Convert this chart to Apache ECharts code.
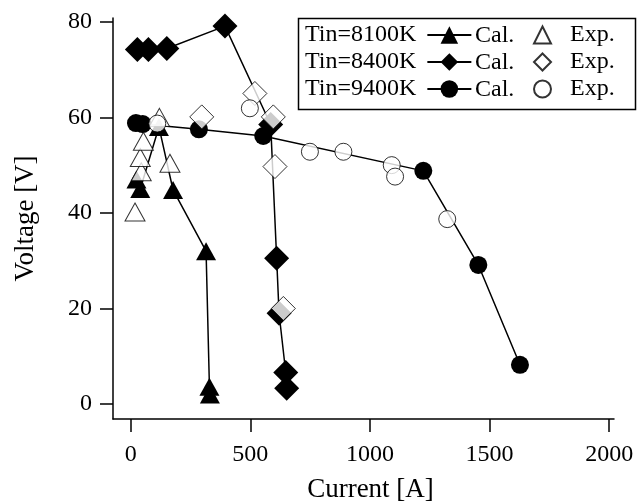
<!DOCTYPE html>
<html><head><meta charset="utf-8">
<script src="https://cdn.jsdelivr.net/npm/echarts@6/dist/echarts.min.js"></script>
<style>html,body{margin:0;padding:0;background:#fff}#c{width:637px;height:503px}</style>
</head><body><div id="c"></div>
<script>
// ---- data ----
const xTicks = [0, 500, 1000, 1500, 2000];
const yTicks = [0, 20, 40, 60, 80];
const cal8100 = [[24,47],[40,45],[118,58],[177,44.8],[315,32],[329,3.6],[331,2]];
const exp8100 = [[18,40.2],[44,48.6],[40,51.6],[53,55],[120,60],[164,50.4]];
const cal8400 = [[28,74.2],[74,74.2],[151,74.4],[394,79.1],[585,58.5],[610,30.5],[620,19],[648,6.6],[652,3.3]];
const exp8400 = [[297,60.1],[519,65],[596,60.1],[603,49.7],[638,20]];
const cal9400 = [[22,58.8],[50,58.6],[285,57.5],[554,56.1],[1223,48.8],[1453,29.1],[1627,8.2]];
const exp9400 = [[111,58.7],[498,61.9],[749,52.8],[889,52.8],[1091,50],[1105,47.6],[1323,38.7]];
const names = ['Tin=8100K','Tin=8400K','Tin=9400K'];

const font = '"Liberation Serif", "Times New Roman", Times, serif';
const chart = echarts.init(document.getElementById('c'), null, {renderer:'canvas'});
function calSeries(name, data, symbol, size){
  return {name, type:'line', data, symbol, symbolSize:size, showSymbol:true,
    itemStyle:{color:'#000'}, lineStyle:{color:'#000', width:1.5}, animation:false, z:2};
}
function expSeries(name, data, symbol, size){
  return {name, type:'scatter', data, symbol, symbolSize:size,
    itemStyle:{color:'#fff', borderColor:'#000', borderWidth:1}, animation:false, z:3};
}
const txt = {color:'#000', fontFamily:font, fontSize:24};
const ttl = {color:'#000', fontFamily:font, fontSize:27};
chart.setOption({
  animation:false,
  grid:{left:113, right:23, top:18, bottom:84, containLabel:false, outerBoundsMode:'none'},
  xAxis:{type:'value', min:-74, max:2020,
    axisLine:{onZero:false, lineStyle:{color:'#000', width:1.5}},
    axisTick:{inside:false, length:13, customValues:xTicks, lineStyle:{color:'#000', width:1.5}},
    axisLabel:Object.assign({customValues:xTicks, margin:24, formatter:v=>String(v)}, txt),
    splitLine:{show:false},
    name:'Current [A]', nameLocation:'middle', nameGap:57,
    nameTextStyle:Object.assign({padding:[0,0,0,14]}, ttl)},
  yAxis:{type:'value', min:-3.14, max:80.8,
    axisLine:{onZero:false, lineStyle:{color:'#000', width:1.5}},
    axisTick:{inside:false, length:13, customValues:yTicks, lineStyle:{color:'#000', width:1.5}},
    axisLabel:Object.assign({customValues:yTicks, margin:21, formatter:v=>String(v)}, txt),
    splitLine:{show:false},
    name:'Voltage [V]', nameLocation:'middle', nameGap:74,
    nameTextStyle:ttl},
  legend:[
    {data:names, orient:'vertical', align:'right', left:300, top:18, itemGap:3,
     itemWidth:44, itemHeight:22,
     textStyle:Object.assign({padding:[0,6,0,0]}, txt)},
    {data:['e8100','e8400','e9400'], orient:'vertical', left:528, top:18, itemGap:3,
     itemWidth:17, itemHeight:17, formatter:function(){return 'Exp.';},
     textStyle:Object.assign({padding:[0,0,0,14]}, txt)}
  ],
  graphic:[
    {type:'rect', left:296, top:16, shape:{width:337, height:91}, style:{fill:'none', stroke:'#000', lineWidth:1.5}, z:10},
    {type:'text', left:475, top:24, style:{text:'Cal.', font:'24px "Liberation Serif", "Times New Roman", serif', fill:'#000'}},
    {type:'text', left:475, top:51, style:{text:'Cal.', font:'24px "Liberation Serif", "Times New Roman", serif', fill:'#000'}},
    {type:'text', left:475, top:78, style:{text:'Cal.', font:'24px "Liberation Serif", "Times New Roman", serif', fill:'#000'}}
  ],
  series:[
    calSeries(names[0], cal8100, 'triangle', [20,18]),
    expSeries('e8100', exp8100, 'triangle', [20,18]),
    calSeries(names[1], cal8400, 'diamond', 25),
    expSeries('e8400', exp8400, 'diamond', 24),
    calSeries(names[2], cal9400, 'circle', 18),
    expSeries('e9400', exp9400, 'circle', 17)
  ]
});
</script></body></html>
